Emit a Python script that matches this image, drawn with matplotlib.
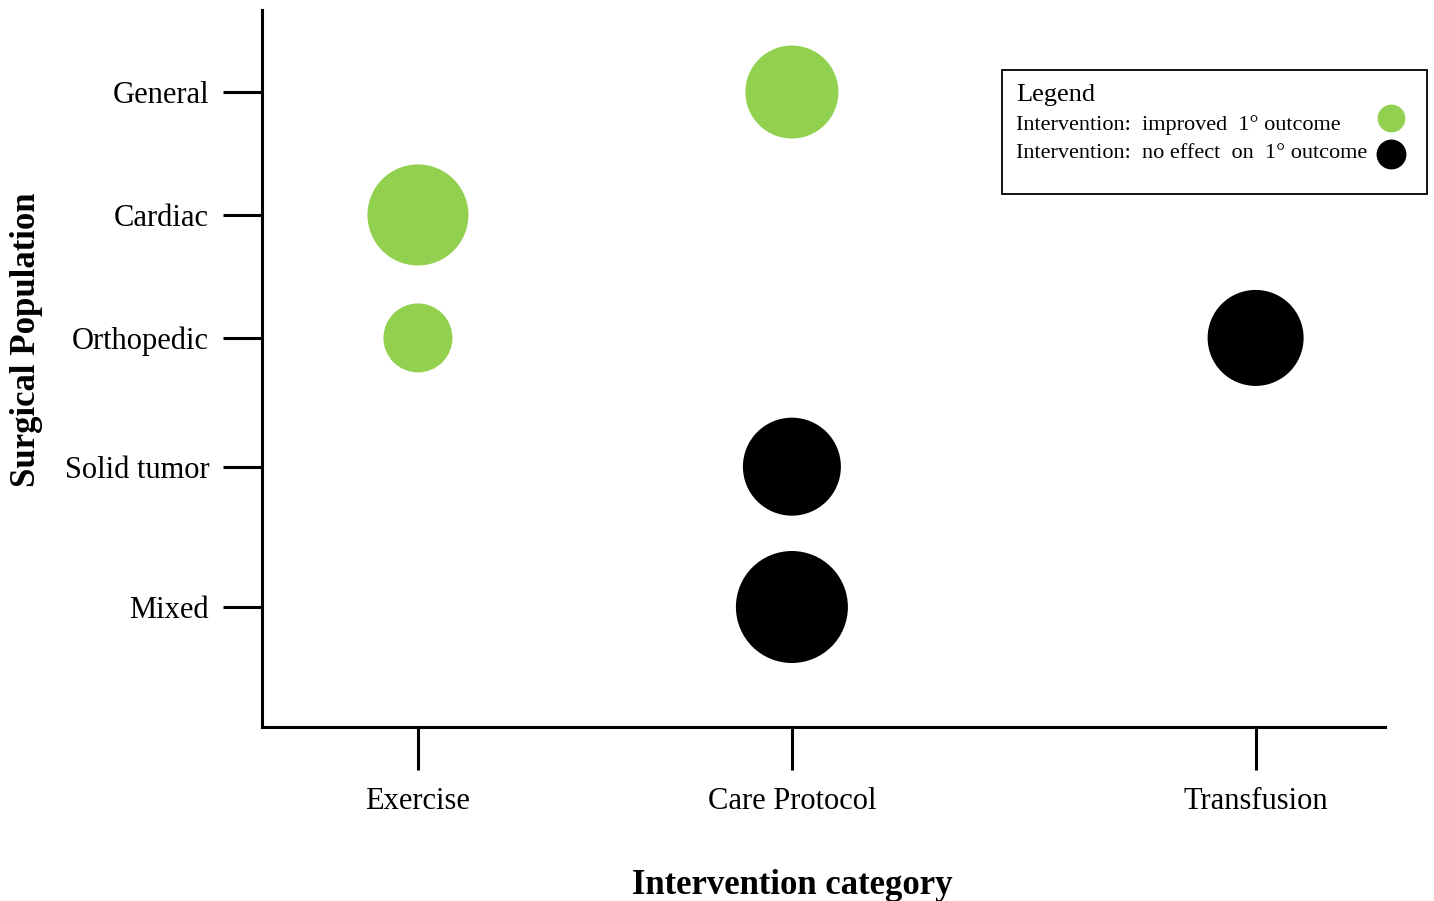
import matplotlib
matplotlib.use("Agg")
import matplotlib.pyplot as plt
from matplotlib.lines import Line2D
from matplotlib.patches import Rectangle

plt.rcParams["font.family"] = ["Liberation Serif", "DejaVu Serif"]

# категории осей и их положение на шкале
interventions = ["Exercise", "Care Protocol", "Transfusion"]
intervention_pos = [0.0, 1.0, 2.24]
populations = ["General", "Cardiac", "Orthopedic", "Solid tumor", "Mixed"]
population_pos = [0.0, 0.955, 1.91, 2.91, 4.0]

# пузыри: вмешательство, популяция, размер, эффект
bubble_x = ["Care Protocol", "Exercise", "Exercise", "Transfusion", "Care Protocol", "Care Protocol"]
bubble_y = ["General", "Cardiac", "Orthopedic", "Orthopedic", "Solid tumor", "Mixed"]
bubble_size = [93, 101, 69, 96, 98, 112]
bubble_effect = [True, True, True, False, False, False]

legend_labels = ["Intervention:  improved  1° outcome", "Intervention:  no effect  on  1° outcome"]

GREEN = "#92D050"
BLACK = "#000000"
W, H = 1434, 901


def fx(px):
    return px / W


def fy(py):
    return 1 - py / H


fig = plt.figure(figsize=(W / 100, H / 100), dpi=100)
ax = fig.add_axes([fx(262), fy(727), (1385 - 262) / W, (727 - 10) / H])

xs = [intervention_pos[interventions.index(c)] for c in bubble_x]
ys = [population_pos[populations.index(c)] for c in bubble_y]
sizes = [(d * 0.72) ** 2 for d in bubble_size]
colors = [GREEN if e else BLACK for e in bubble_effect]
ax.scatter(xs, ys, s=sizes, c=colors, linewidths=0, zorder=3)

ax.set_xlim(-0.417, 2.586)
ax.set_ylim(4.932, -0.637)

ax.set_xticks(intervention_pos)
ax.set_xticklabels(interventions, fontsize=22)
ax.set_yticks(population_pos)
ax.set_yticklabels(populations, fontsize=22)
ax.tick_params(axis="y", direction="out", length=28, width=2.2, pad=10)
ax.tick_params(axis="x", direction="out", length=31, width=2.2, pad=12)

for side in ("top", "right"):
    ax.spines[side].set_visible(False)
for side in ("left", "bottom"):
    ax.spines[side].set_linewidth(2.2)

fig.text(fx(792), fy(885), "Intervention category", fontsize=25,
         fontweight="bold", ha="center", va="center")
fig.text(fx(27), fy(340), "Surgical Population", fontsize=25,
         fontweight="bold", ha="center", va="center", rotation=90)

# легенда вручную: текст слева, кружки справа
fig.patches.append(Rectangle((fx(1002), fy(194)), (1427 - 1002) / W, (194 - 70) / H,
                             transform=fig.transFigure, fill=False,
                             edgecolor="black", linewidth=1.3))
fig.text(fx(1016), fy(95), "Legend", fontsize=19, ha="left", va="center")
for i, (lab, col, ms) in enumerate(zip(legend_labels, [GREEN, BLACK], [20, 21.5])):
    fig.text(fx(1016), fy(125 + 28 * i), lab, fontsize=16, ha="left", va="center")
    fig.lines.append(Line2D([fx(1391)], [fy(118 + 36 * i)], transform=fig.transFigure,
                            marker="o", linestyle="none", markersize=ms,
                            markerfacecolor=col, markeredgewidth=0))

fig.savefig("out.png", dpi=100)
